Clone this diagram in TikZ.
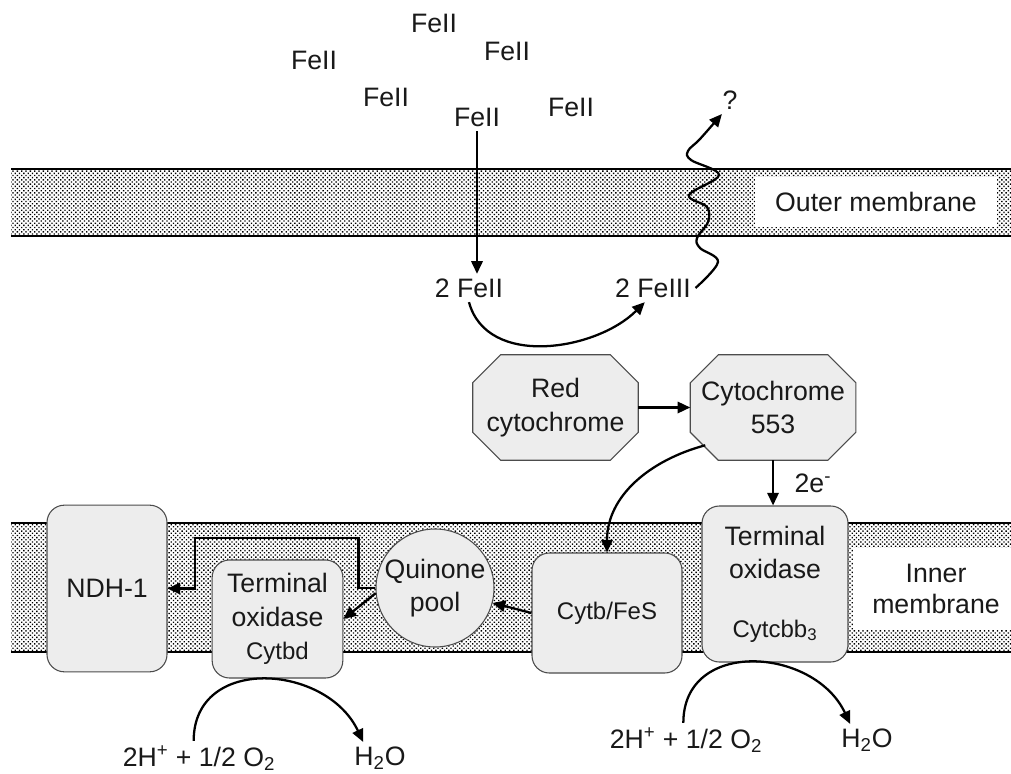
\documentclass[tikz,border=0pt]{standalone}
\usepackage{fontspec}
\setmainfont{Liberation Sans}
\usetikzlibrary{arrows.meta,positioning,calc,patterns.meta}
\pgfdeclarelayer{background}
\pgfsetlayers{background,main}

\begin{document}
\begin{tikzpicture}[x=0.75pt,y=0.75pt,font=\fontsize{20}{25}\selectfont,text=black!90,
 box/.style={draw=black!70,line width=0.8pt,fill=black!7,rounded corners=13pt,align=center},
 octa/.style={minimum width=123.75pt,minimum height=78.75pt,inner sep=1pt,align=center},
 octline/.style={draw=black!70,line width=0.8pt,fill=black!7},
 pool/.style={circle,draw=black!70,line width=0.8pt,fill=black!7,minimum size=88.5pt,inner sep=0pt,align=center},
 arr/.style={-{Triangle[length=9.5pt,width=8.5pt]},line width=1.7pt},
 membrane/.style={pattern={Dots[distance=2.3pt,radius=0.72pt,angle=45]},pattern color=black},
 lipid/.style={line width=2pt}]
 \useasboundingbox (0,0) rectangle (1011,-774);
 \begin{pgfonlayer}{background}
  \fill[white] (0,0) rectangle (1011,-774);
 \end{pgfonlayer}
 % membranes
 \fill[membrane] (11,-169) rectangle (1011,-236);
 \draw[lipid] (11,-169) -- (1011,-169) (11,-236) -- (1011,-236);
 \fill[membrane] (11,-523) rectangle (1011,-652);
 \draw[lipid] (11,-523) -- (1011,-523) (11,-652) -- (1011,-652);
 \node[fill=white,minimum width=181.5pt,minimum height=37.5pt] (om) at (876,-202) {Outer membrane};
 \node[fill=white,align=center,minimum width=124.5pt,minimum height=61.5pt,font=\fontsize{20}{23}\selectfont] (im) at (936,-589) {Inner\\membrane};
 % iron outside
 \node (fe1) at (434,-23) {FeII};
 \node (fe2) at (314,-60) {FeII};
 \node (fe3) at (507,-51) {FeII};
 \node (fe4) at (386,-97) {FeII};
 \node (fe5) at (477,-117) {FeII};
 \node (fe6) at (571,-107) {FeII};
 \node (q) at (730,-100) {?};
 \node (fered) at (469,-288) {2 FeII};
 \node (feox) at (653,-288) {2 FeIII};
 % proteins
 \node[octa] (red) at (555.5,-407.5) {Red\\cytochrome};
 \node[octa,right=39pt of red] (c553) {Cytochrome\\553};
 \begin{pgfonlayer}{background}
  \foreach \o in {red,c553}
   \draw[octline] ($(\o.north west)+(28,0)$) -- ($(\o.north east)+(-28,0)$) -- ($(\o.north east)+(0,-28)$) -- ($(\o.south east)+(0,28)$) -- ($(\o.south east)+(-28,0)$) -- ($(\o.south west)+(28,0)$) -- ($(\o.south west)+(0,28)$) -- ($(\o.north west)+(0,-28)$) -- cycle;
 \end{pgfonlayer}
 \node[box,minimum width=90pt,minimum height=125pt] (ndh) at (107,-588.5) {NDH-1};
 \node[box,minimum width=98pt,minimum height=88.5pt] (tox1) at (277.5,-619) {Terminal\\oxidase\\{\fontsize{18}{22}\selectfont Cytbd}};
 \node[pool] (qp) at (435,-588) {Quinone\\pool};
 \node[box,minimum width=112.5pt,minimum height=90pt,font=\fontsize{18}{22}\selectfont] (cytb) at (607,-613) {Cytb/FeS};
 \node[box,minimum width=109.5pt,minimum height=117pt] (tox2) at (775,-584) {Terminal\\oxidase\\[19pt]{\fontsize{18}{22}\selectfont Cytcbb\textsubscript{3}}};
 \node (h1) at (199,-758) {2H\textsuperscript{+} + 1/2 O\textsubscript{2}};
 \node (w1) at (380,-758) {H\textsubscript{2}O};
 \node (h2) at (686,-740) {2H\textsuperscript{+} + 1/2 O\textsubscript{2}};
 \node (w2) at (867,-740) {H\textsubscript{2}O};
 % electron flow
 \draw[arr] (fe5.south) -- (fe5.south |- fered.north);
 \draw[arr] (fered.south) to[out=-75,in=-135] (feox.-120);
 \draw[arr] plot[smooth,tension=0.6] coordinates {(feox.east) (718,-262) (700,-248) (697,-238) (708,-222) (707,-207) (689,-195) (719,-175) (691,-160) (688,-151) (700,-139) (q.-120)};
 \draw[arr] (red) -- (c553);
 \draw[arr] (c553.south) -- (c553.south |- tox2.north) node[midway,right=12pt] {2e\textsuperscript{-}};
 \draw[arr] ([shift={(15,15)}]c553.south west) to[out=195,in=90] (cytb.north);
 \draw[arr] (cytb.west) -- (qp);
 \draw[arr] (qp.185) -- (tox1.east);
 \draw[arr] (qp.west) -- ++(-17,0) |- (195,-538) |- (ndh.east);
 \draw[arr] ([xshift=-4pt]h1.north) to[out=90,in=115,looseness=1.3] ([xshift=10pt]w1.north west);
 \draw[arr] ([xshift=-2pt]h2.north) to[out=90,in=115,looseness=1.3] ([xshift=10pt]w2.north west);
\end{tikzpicture}
\end{document}
